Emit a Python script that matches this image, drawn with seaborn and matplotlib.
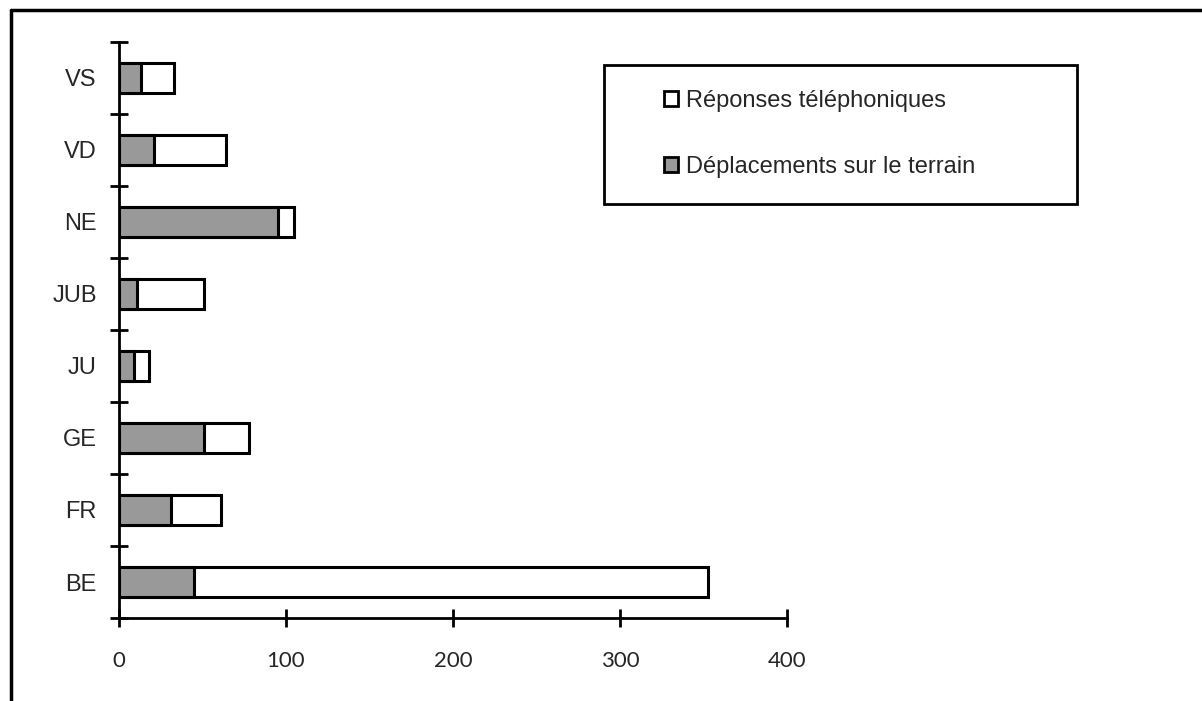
import numpy as np
import pandas as pd
import matplotlib
matplotlib.use("Agg")
import matplotlib.pyplot as plt
import seaborn as sns
from matplotlib.patches import Patch, Rectangle
from matplotlib.lines import Line2D

# valeurs
cantons = ["VS", "VD", "NE", "JUB", "JU", "GE", "FR", "BE"]
deplacements = [13, 21, 95, 11, 9, 51, 31, 45]
telephone = [20, 43, 10, 40, 9, 27, 30, 308]

df = pd.DataFrame({"canton": cantons, "deplacements": deplacements,
                   "telephone": telephone})
df["total"] = df["deplacements"] + df["telephone"]

sns.set_style("white")
plt.rcParams["font.family"] = ["Liberation Sans", "DejaVu Sans"]

fig = plt.figure(figsize=(12.02, 7.01), dpi=100)
ax = fig.add_axes([0.099, 0.1184, 0.5557, 0.8217])

grey = "#999999"
sns.barplot(data=df, x="total", y="canton", order=cantons, color="white",
            edgecolor="black", linewidth=2.2, width=0.42, ax=ax, saturation=1)
sns.barplot(data=df, x="deplacements", y="canton", order=cantons, color=grey,
            edgecolor="black", linewidth=2.2, width=0.42, ax=ax, saturation=1)

ax.set_xlim(0, 400)
ax.set_ylim(len(cantons) - 0.5, -0.5)
ax.set_xticks([0, 100, 200, 300, 400])
ax.set_xticklabels(["0", "100", "200", "300", "400"], family="Lato", fontsize=16)
ax.set_yticks(range(len(cantons)))
ax.set_yticklabels(cantons, fontsize=17)
ax.set_yticks(np.arange(-0.5, len(cantons)), minor=True)
ax.tick_params(axis="y", which="major", length=0, pad=16)
ax.tick_params(axis="y", which="minor", direction="inout", length=13, width=2,
               color="black", left=True)
ax.tick_params(axis="x", which="major", direction="inout", length=13, width=2,
               color="black", bottom=True, pad=17)
ax.set_xlabel("")
ax.set_ylabel("")
for s in ["top", "right"]:
    ax.spines[s].set_visible(False)
for s in ["left", "bottom"]:
    ax.spines[s].set_color("black")
    ax.spines[s].set_linewidth(2)

# cadre du legende
W, H = 1202, 701
fig.patches.append(Rectangle((604 / W, 1 - 204 / H), (1077 - 604) / W,
                             (204 - 65) / H, transform=fig.transFigure,
                             fill=False, edgecolor="black", linewidth=2))
handles = [Patch(facecolor="white", edgecolor="black", linewidth=2),
           Patch(facecolor=grey, edgecolor="black", linewidth=2)]
fig.legend(handles, ["Réponses téléphoniques", "Déplacements sur le terrain"],
           loc="center left", bbox_to_anchor=(652 / W, 1 - 134 / H),
           frameon=False, fontsize=17, handlelength=0.62, handleheight=0.62,
           handletextpad=0.3, labelspacing=1.85, borderpad=0)

# cadre de la figure
fig.add_artist(Line2D([11 / W, 1], [1 - 10 / H, 1 - 10 / H], color="black",
                      linewidth=2.5, transform=fig.transFigure))
fig.add_artist(Line2D([11 / W, 11 / W], [0, 1 - 10 / H], color="black",
                      linewidth=2.5, transform=fig.transFigure))

fig.savefig("out.png", dpi=100)
